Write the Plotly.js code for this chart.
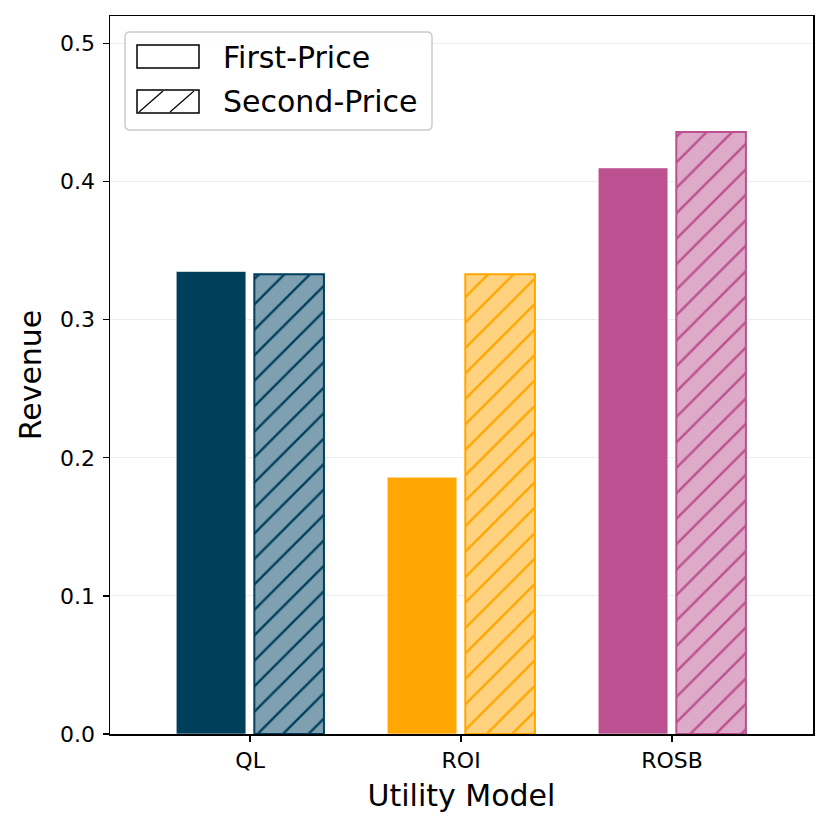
<!DOCTYPE html>
<html>
<head>
<meta charset="utf-8">
<script src="https://cdn.plot.ly/plotly-3.0.1.min.js"></script>
<style>html,body{margin:0;padding:0;background:#fff}#chart{width:830px;height:830px}</style>
</head>
<body>
<div id="chart"></div>
<script>
const categories = ["QL", "ROI", "ROSB"];
const firstPrice = [0.335, 0.186, 0.410];
const secondPrice = [0.333, 0.333, 0.436];
const seriesNames = ["First-Price", "Second-Price"];
const baseColors = ["#003f5c", "#ffa600", "#bc5090"];
const lightColors = ["#7fa0b0", "#ffd280", "#ddaac7"];
const yTicks = [0.0, 0.1, 0.2, 0.3, 0.4, 0.5];

const font = "DejaVu Sans, sans-serif";

const traces = [];
categories.forEach((cat, i) => {
  traces.push({
    type: "bar", x: [cat], y: [firstPrice[i]], name: seriesNames[0],
    offsetgroup: "a", showlegend: false,
    marker: {color: baseColors[i], line: {color: "rgba(255,255,255,0.6)", width: 1}}
  });
  traces.push({
    type: "bar", x: [cat], y: [secondPrice[i]], name: seriesNames[1],
    offsetgroup: "b", showlegend: false,
    marker: {color: lightColors[i], line: {color: baseColors[i], width: 2},
      pattern: {shape: "/", fillmode: "replace", fgcolor: baseColors[i], bgcolor: lightColors[i],
                fgopacity: 1, size: 18, solidity: 0.13}}
  });
});

// custom legend drawn in pixel space -> paper coordinates
const M = {l: 110, r: 17, t: 16, b: 96};
const W = 830, H = 830;
const pw = W - M.l - M.r, ph = H - M.t - M.b;
const px = x => (x - M.l) / pw;
const py = y => (H - M.b - y) / ph;

function rrect(x0, y0, x1, y1, r) {
  return `M ${px(x0 + r)} ${py(y0)} L ${px(x1 - r)} ${py(y0)} Q ${px(x1)} ${py(y0)} ${px(x1)} ${py(y0 + r)} ` +
         `L ${px(x1)} ${py(y1 - r)} Q ${px(x1)} ${py(y1)} ${px(x1 - r)} ${py(y1)} ` +
         `L ${px(x0 + r)} ${py(y1)} Q ${px(x0)} ${py(y1)} ${px(x0)} ${py(y1 - r)} ` +
         `L ${px(x0)} ${py(y0 + r)} Q ${px(x0)} ${py(y0)} ${px(x0 + r)} ${py(y0)} Z`;
}

const shapes = [
  {type: "path", xref: "paper", yref: "paper", path: rrect(125, 32, 432, 130, 5),
   fillcolor: "rgba(255,255,255,0.8)", line: {color: "#cccccc", width: 1.5}, layer: "above"},
  {type: "rect", xref: "paper", yref: "paper", x0: px(137), x1: px(199), y0: py(45), y1: py(68),
   fillcolor: "#ffffff", line: {color: "#000000", width: 1.5}, layer: "above"},
  {type: "rect", xref: "paper", yref: "paper", x0: px(137), x1: px(199), y0: py(90), y1: py(113),
   fillcolor: "#ffffff", line: {color: "#000000", width: 1.5}, layer: "above"},
  {type: "line", xref: "paper", yref: "paper", x0: px(139), y0: py(112), x1: px(163), y1: py(91),
   line: {color: "#000000", width: 1.2}, layer: "above"},
  {type: "line", xref: "paper", yref: "paper", x0: px(170), y0: py(112), x1: px(194), y1: py(91),
   line: {color: "#000000", width: 1.2}, layer: "above"}
];

const annotations = [
  {xref: "paper", yref: "paper", x: px(221), y: py(57), xanchor: "left", yanchor: "middle",
   text: seriesNames[0], showarrow: false, font: {family: font, size: 30, color: "#000000"}},
  {xref: "paper", yref: "paper", x: px(221), y: py(102), xanchor: "left", yanchor: "middle",
   text: seriesNames[1], showarrow: false, font: {family: font, size: 30, color: "#000000"}}
];

const layout = {
  width: W, height: H,
  margin: M,
  paper_bgcolor: "#ffffff", plot_bgcolor: "#ffffff",
  font: {family: font, color: "#000000"},
  barmode: "group", bargap: 0.26, bargroupgap: 0.108,
  showlegend: false,
  shapes: shapes,
  annotations: annotations,
  xaxis: {
    type: "category", range: [-0.664, 2.668],
    showline: true, linecolor: "#000000", linewidth: 1.5, mirror: true,
    ticks: "outside", ticklen: 6, tickwidth: 1.2, tickcolor: "#000000",
    showgrid: false, zeroline: false,
    tickfont: {family: font, size: 22},
    title: {text: "Utility Model", font: {family: font, size: 30}, standoff: 13}
  },
  yaxis: {
    range: [0, 0.52], tickvals: yTicks, ticktext: yTicks.map(v => v.toFixed(1)),
    showline: true, linecolor: "#000000", linewidth: 1.5, mirror: true,
    ticks: "outside", ticklen: 6, tickwidth: 1.2, tickcolor: "#000000",
    showgrid: true, gridcolor: "rgba(200,200,200,0.35)", gridwidth: 1,
    zeroline: false, layer: "above traces", ticklabelstandoff: 3,
    tickfont: {family: font, size: 22},
    title: {text: "Revenue", font: {family: font, size: 30}, standoff: 9}
  }
};

Plotly.newPlot("chart", traces, layout, {displayModeBar: false, staticPlot: true});
</script>
</body>
</html>
